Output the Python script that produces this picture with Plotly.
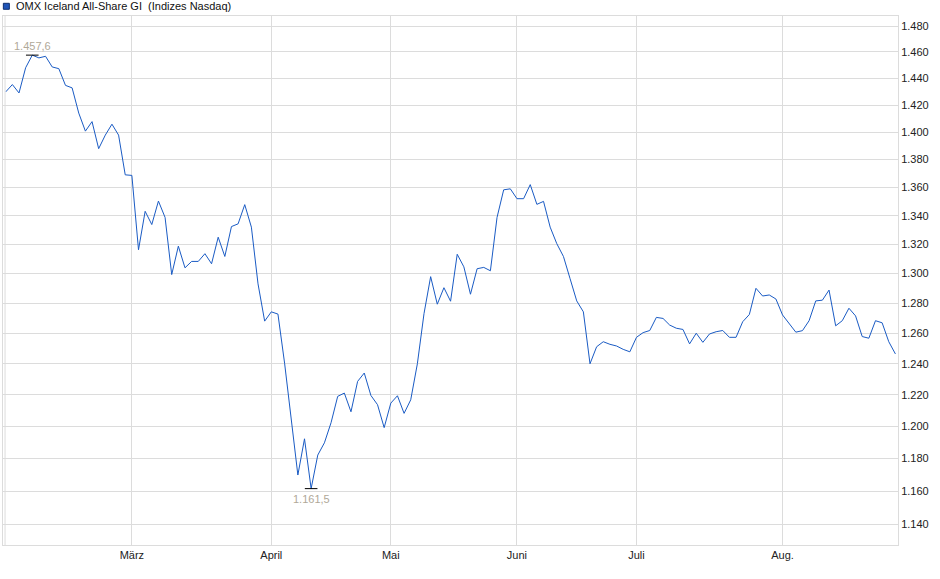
import numpy as np
import plotly.graph_objects as go

# daily closes (index = trading day)
closes = [
    1429.8, 1435.3, 1429.0, 1448.0, 1457.6, 1455.5, 1456.7, 1448.6, 1447.3, 1434.7,
    1432.8, 1414.0, 1400.7, 1407.7, 1387.9, 1397.8, 1405.8, 1397.8, 1369.0, 1368.6,
    1316.3, 1343.1, 1333.8, 1350.3, 1338.8, 1299.3, 1318.8, 1303.9, 1308.3, 1308.3,
    1313.6, 1306.7, 1325.0, 1311.7, 1332.4, 1334.3, 1347.8, 1332.0, 1293.0, 1268.0,
    1274.2, 1272.7, 1240.4, 1204.4, 1169.8, 1192.2, 1161.5, 1182.1, 1189.7, 1202.3,
    1219.0, 1221.1, 1209.2, 1228.6, 1234.0, 1219.6, 1213.7, 1199.2, 1214.7, 1219.4,
    1208.2, 1216.8, 1240.0, 1273.0, 1297.9, 1279.3, 1290.4, 1281.3, 1313.2, 1304.6,
    1286.0, 1303.3, 1304.2, 1301.9, 1338.8, 1358.3, 1359.0, 1352.0, 1352.0, 1362.0,
    1348.0, 1350.1, 1332.0, 1320.5, 1311.7, 1296.5, 1281.5, 1274.2, 1240.0, 1251.1,
    1254.4, 1252.7, 1251.6, 1249.4, 1247.8, 1257.3, 1260.4, 1261.8, 1270.5, 1269.8,
    1265.4, 1263.3, 1262.5, 1253.0, 1260.0, 1254.0, 1259.5, 1261.0, 1261.8, 1257.3,
    1257.3, 1267.6, 1272.4, 1290.0, 1284.8, 1285.5, 1282.8, 1272.1, 1266.2, 1260.7,
    1261.7, 1268.3, 1281.5, 1282.0, 1288.8, 1264.9, 1268.3, 1276.6, 1271.5, 1257.8,
    1256.7, 1268.3, 1266.9, 1254.4, 1246.4,
]
days = list(range(len(closes)))

# first trading day of each month
month_pos = [19, 40, 58, 77, 95, 117]
month_labels = ["März", "April", "Mai", "Juni", "Juli", "Aug."]

y_ticks = list(range(1140, 1481, 20))

series_name = "OMX Iceland All-Share GI \u00a0(Indizes Nasdaq)"

FONT = "Liberation Sans, Arial, sans-serif"
GRID = "#dcdcdc"
LINE = "#1a5bc4"
LABEL = "#b0a898"


def de_fmt(v):
    # german number format: 1.457,6
    return f"{v:,.1f}".replace(",", "X").replace(".", ",").replace("X", ".")


i_max = int(np.argmax(closes))
i_min = int(np.argmin(closes))

fig = go.Figure()
fig.add_trace(go.Scatter(x=days, y=closes, mode="lines",
                         line=dict(color=LINE, width=1), hoverinfo="skip"))
fig.add_trace(go.Scatter(x=[days[i_max], days[i_min]], y=[closes[i_max], closes[i_min]],
                         mode="markers",
                         marker=dict(symbol="line-ew", size=9, color="black",
                                     line=dict(color="black", width=1)),
                         hoverinfo="skip"))

fig.add_annotation(x=days[i_max], y=np.log10(closes[i_max]), text=de_fmt(closes[i_max]),
                   showarrow=False, yshift=9, font=dict(family=FONT, size=11, color=LABEL))
fig.add_annotation(x=days[i_min], y=np.log10(closes[i_min]), text=de_fmt(closes[i_min]),
                   showarrow=False, yshift=-10, font=dict(family=FONT, size=11, color=LABEL))

# legend-like header: blue square + name
fig.add_shape(type="rect", xref="paper", yref="paper",
              x0=0.0004, x1=0.0071, y0=1.0127, y1=1.024,
              fillcolor="#1f55b8", line=dict(color="#0d2f6e", width=1))
fig.add_annotation(xref="paper", yref="paper", x=0.0125, y=1.0195,
                   xanchor="left", yanchor="middle", showarrow=False,
                   text=series_name, font=dict(family=FONT, size=11, color="#111"))

# second thin line at the left edge of the frame
fig.add_shape(type="line", xref="paper", yref="paper", x0=0.0023, x1=0.0023, y0=0, y1=1,
              line=dict(color=GRID, width=1))

fig.update_layout(
    width=940, height=579,
    margin=dict(l=3, r=42, t=16, b=34),
    paper_bgcolor="white", plot_bgcolor="white",
    showlegend=False,
    separators=",.",
    font=dict(family=FONT, size=11, color="#222"),
)
fig.update_xaxes(
    range=[-0.41, 134.39],
    tickvals=month_pos, ticktext=month_labels,
    showgrid=True, gridcolor=GRID, gridwidth=1,
    showline=True, linecolor=GRID, linewidth=1, mirror=True,
    ticks="", zeroline=False,
    tickfont=dict(family=FONT, size=11, color="#222"),
)
fig.update_yaxes(
    type="log", side="right",
    range=[3.05219, 3.17254],
    tickvals=y_ticks, tickformat=",d",
    showgrid=True, gridcolor=GRID, gridwidth=1,
    showline=True, linecolor=GRID, linewidth=1, mirror=True,
    ticks="", zeroline=False,
    tickfont=dict(family=FONT, size=11, color="#222"),
)

# drop the browser's default body margin so the chart sits at the page corner
fig.write_html("out.html", config={"displayModeBar": False},
               post_script="document.body.style.margin='0';")
